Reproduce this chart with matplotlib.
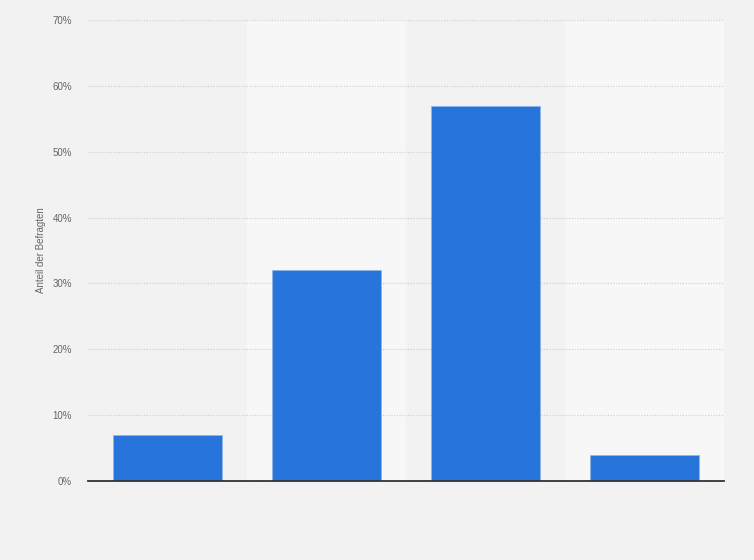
import matplotlib
matplotlib.use("Agg")
import matplotlib.pyplot as plt
import numpy as np

categories = ["A", "B", "C", "D"]
values = [7, 32, 57, 4]
yticks = [0, 10, 20, 30, 40, 50, 60, 70]
ytick_labels = ["0%", "10%", "20%", "30%", "40%", "50%", "60%", "70%"]

bg = "#f2f2f2"
fig = plt.figure(figsize=(7.54, 5.6), dpi=100, facecolor=bg)
ax = fig.add_axes([88/754, 1-481/560, (724-88)/754, (481-20)/560])
ax.set_facecolor(bg)

x = np.arange(len(categories))
for i in x:
    if i % 2 == 1:
        ax.axvspan(i-0.5, i+0.5, color="#f7f7f7", zorder=0, lw=0)

ax.bar(x, values, width=0.685, color="#2775db", zorder=3, edgecolor="#8fb4e8", linewidth=0.4)
ax.set_xlim(-0.5, len(categories)-0.5)
ax.set_ylim(0, 70)
ax.set_yticks(yticks)
ax.set_yticklabels(ytick_labels, fontsize=7, color="#666666", family="Liberation Sans")
ax.set_xticks([])
ax.yaxis.grid(True, linestyle=(0, (1, 1.5)), color="#cccccc", linewidth=0.8, zorder=1)
ax.tick_params(axis="y", length=0, pad=11.5)
for s in ["top", "right", "left"]:
    ax.spines[s].set_visible(False)
ax.spines["bottom"].set_color("#333333")
ax.spines["bottom"].set_linewidth(1.3)
ax.spines["bottom"].set_zorder(4)
ax.set_ylabel("Anteil der Befragten", fontsize=7, color="#666666", family="Liberation Sans", labelpad=4.5)

fig.savefig("out.png", dpi=100, facecolor=bg)
